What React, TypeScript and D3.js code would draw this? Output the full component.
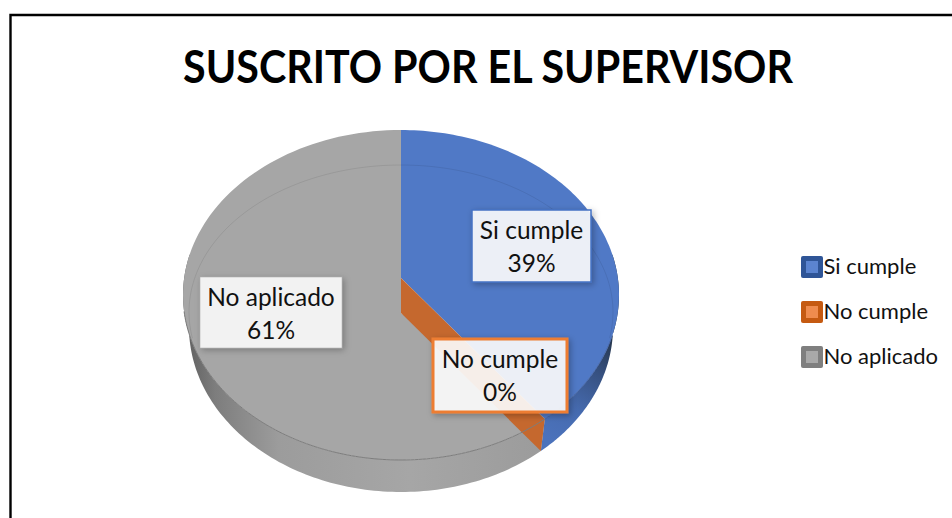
import React from "react";
import * as d3 from "d3";

const W = 952, H = 518;
const categories = ["Si cumple", "No cumple", "No aplicado"];
const shareValues = [38.5, 0, 61.4];
const topColors = ["#5079c6", "#c5682e", "#a6a6a6"];
const legendBorder = ["#2f5597", "#c55a11", "#7f7f7f"];
const legendFill = ["#5b84d0", "#ef8c4e", "#a9a9a9"];
const labelBorder = ["#4472c4", "#ed7d31", "#a5a5a5"];
const titleText = "SUSCRITO POR EL SUPERVISOR";

const cx = 401, cy = 295, rx = 218, ry = 165, depth = 32, lowerRx = 212;
const apexUp = 17, apexDown = 18;

const pieAngles = d3.pie<number>().sort(null)(shareValues);
const blueEnd = pieAngles[0].endAngle;
const TAU = Math.PI * 2;

const pt = (a: number, rX = rx, cY = cy, rY = ry): [number, number] => [cx + rX * Math.sin(a), cY - rY * Math.cos(a)];
const line = d3.line<[number, number]>();
const arcPts = (a0: number, a1: number, rX: number, cY: number, rY = ry) =>
  d3.range(0, 121).map((i) => pt(a0 + ((a1 - a0) * i) / 120, rX, cY, rY));

const topBlue = line([[cx, cy - apexUp], ...arcPts(0, blueEnd, rx, cy)])! + "Z";
const topGray = line([...arcPts(blueEnd, TAU, rx, cy), [cx, cy + apexDown]])! + "Z";
const sideBlue = line([...arcPts(Math.PI / 2 - 0.25, blueEnd, rx, cy), ...arcPts(blueEnd, Math.PI / 2 - 0.25, lowerRx, cy + depth)])! + "Z";
const sideGray = line([...arcPts(blueEnd, TAU - Math.PI / 2 + 0.25, rx, cy), ...arcPts(TAU - Math.PI / 2 + 0.25, blueEnd, lowerRx, cy + depth)])! + "Z";
const orangeWall = line([[cx, cy - apexUp], pt(blueEnd), pt(blueEnd, lowerRx, cy + depth), [cx, cy + apexDown]])! + "Z";
const rimLine = line(arcPts(blueEnd, TAU - Math.PI / 2 - 0.1, rx, cy))!;
const rimRight = line(arcPts(Math.PI / 2 + 0.25, blueEnd, rx, cy))!;
const bevel = line(arcPts(-1.75, 1.75, 212, 312, 147))!;

const labelBoxes = [
  { x: 472, y: 210, w: 119, h: 72, sw: 1.5, fill: "rgba(255,255,255,0.88)" },
  { x: 433, y: 339, w: 134, h: 73, sw: 3, fill: "rgba(255,255,255,0.88)" },
  { x: 200, y: 277, w: 142, h: 71, sw: 0.5, fill: "rgba(255,255,255,0.86)" },
];
const legendY = [267, 312, 357];
const font = "Lato, 'Open Sans', sans-serif";

export default function App() {
  const pct = d3.format(".0f");
  return (
    <svg width={W} height={H} style={{ position: "absolute", left: 0, top: 0, background: "#fff" }} fontFamily={font}>
      <defs>
        <linearGradient id="gGray" gradientUnits="userSpaceOnUse" x1={185} x2={560} y1={0} y2={0}>
          <stop offset="0" stopColor="#5f5f5f" />
          <stop offset="0.08" stopColor="#7d7d7d" />
          <stop offset="0.25" stopColor="#9c9c9c" />
          <stop offset="0.6" stopColor="#a6a6a6" />
          <stop offset="1" stopColor="#9a9a9a" />
        </linearGradient>
        <linearGradient id="gBlue" gradientUnits="userSpaceOnUse" x1={616} x2={550} y1={330} y2={440}>
          <stop offset="0" stopColor="#22303f" />
          <stop offset="0.35" stopColor="#36507f" />
          <stop offset="0.7" stopColor="#466bb0" />
          <stop offset="1" stopColor="#4b72bb" />
        </linearGradient>
        <filter id="shadow" x="-15%" y="-15%" width="130%" height="130%">
          <feDropShadow dx="2" dy="2" stdDeviation="3" floodColor="#000" floodOpacity="0.3" />
        </filter>
      </defs>
      <path d={`M10.5,${H}V15H${W}`} fill="none" stroke="#000" strokeWidth={2.4} />
      <text x={488} y={83} textAnchor="middle" fontSize={46} fontWeight={700} fill="#000" textLength={610} lengthAdjust="spacingAndGlyphs">{titleText}</text>

      <path d={sideGray} fill="url(#gGray)" />
      <path d={sideBlue} fill="url(#gBlue)" />
      <path d={topGray} fill={topColors[2]} />
      <path d={topBlue} fill={topColors[0]} />
      <path d={orangeWall} fill={topColors[1]} />
      <path d={bevel} fill="none" stroke="#000" strokeOpacity={0.08} strokeWidth={1} />
      <path d={rimLine} fill="none" stroke="#7d7d7d" strokeWidth={1} />
      <path d={rimRight} fill="none" stroke="#3f5f9f" strokeWidth={1} />

      {categories.map((c, i) => {
        const b = labelBoxes[i];
        return (
          <g key={c}>
            <rect x={b.x} y={b.y} width={b.w} height={b.h} fill={b.fill} stroke={labelBorder[i]} strokeWidth={b.sw} filter="url(#shadow)" />
            <text x={b.x + b.w / 2} y={b.y + 29} textAnchor="middle" fontSize={24.5} fill="#111">{c}</text>
            <text x={b.x + b.w / 2} y={b.y + 62} textAnchor="middle" fontSize={24.5} fill="#111">{pct(shareValues[i])}%</text>
          </g>
        );
      })}

      {categories.map((c, i) => (
        <g key={"l" + c}>
          <rect x={801} y={legendY[i] - 11} width={22} height={22} rx={2} fill={legendBorder[i]} />
          <rect x={806} y={legendY[i] - 6} width={12} height={12} fill={legendFill[i]} />
          <text x={823.5} y={legendY[i] + 7} fontSize={22} fill="#111">{c}</text>
        </g>
      ))}
    </svg>
  );
}
